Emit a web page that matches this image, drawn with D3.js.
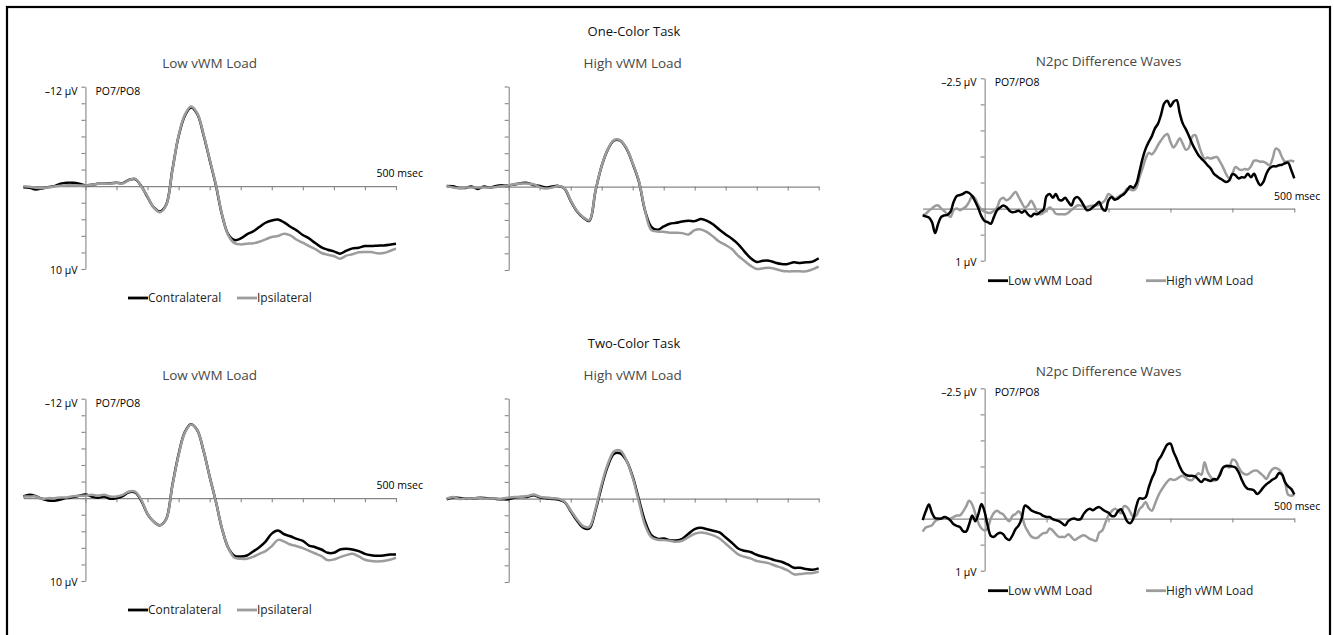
<!DOCTYPE html>
<html>
<head>
<meta charset="utf-8">
<script src="https://cdn.jsdelivr.net/npm/d3@7"></script>
<style>
  body { margin: 0; background: #fff; }
  text { font-family: "Open Sans", Lato, sans-serif; }
</style>
</head>
<body>
<svg id="fig" width="1334" height="635"></svg>
<script>
// sampling grids (ms)
const timesErp = d3.range(-100, 501, 10);
const timesDiff = d3.range(-100, 501, 5);

// ERP amplitudes in µV (negative plotted up), one value per 10 ms
const oneLowContra = [0.12,0.2,0.4,0.28,0.12,0,-0.28,-0.4,-0.4,-0.28,
  -0.08,-0.16,-0.28,-0.28,-0.36,-0.4,-0.36,-0.76,-0.84,0.0,
  1.33,2.57,3.05,2.25,-1.97,-6.02,-8.47,-9.48,-8.71,-6.22,
  -3.17,-0.12,3.49,5.82,6.51,6.31,5.82,5.46,4.94,4.42,
  4.14,4.02,4.38,4.9,5.34,5.9,6.31,6.87,7.39,7.67,
  7.87,8.15,7.79,7.51,7.43,7.23,7.23,7.19,7.15,7.07,6.95];
const oneLowIpsi = [0,0.08,0.2,0.24,0.16,0.04,-0.04,-0.12,-0.12,-0.08,
  -0.08,-0.16,-0.28,-0.28,-0.32,-0.4,-0.32,-0.7,-0.9,0.05,
  1.25,2.6,3.15,2.3,-1.9,-6.1,-8.6,-9.6,-8.8,-6.3,
  -3.25,-0.2,3.45,5.94,6.87,7.03,6.95,6.9,6.71,6.43,
  6.14,6.02,5.74,5.94,6.47,6.83,7.23,7.59,8.07,8.27,
  8.43,8.76,8.39,8.23,7.99,7.95,7.95,8.11,8.07,7.83,7.55];
const oneHighContra = [-0.08,-0.04,0.16,0.16,0,0.28,0,0.12,-0.08,-0.16,
  -0.16,-0.28,-0.4,-0.44,-0.2,-0.08,0.12,0,-0.08,0.24,
  1.71,2.95,3.7,4.1,0.52,-2.47,-4.46,-5.54,-5.5,-4.54,
  -2.75,-0.6,2.9,4.82,5.18,4.78,4.46,4.34,4.18,4.1,
  4.14,3.9,4.1,4.54,5.18,5.74,6.25,6.89,7.77,8.57,
  9.04,8.88,8.88,9.12,9.28,9.28,9.08,9.16,9.08,9.0,8.6];
const oneHighIpsi = [-0.08,0.12,0.2,0.12,0.12,0.12,0.12,0.12,0.04,-0.08,
  -0.16,-0.3,-0.36,-0.36,-0.28,0.08,0.24,0.12,-0.08,0.2,
  1.65,2.9,3.65,4.05,0.5,-2.5,-4.5,-5.6,-5.55,-4.6,
  -2.8,-0.65,2.9,5.22,5.38,5.42,5.54,5.54,5.58,5.74,
  5.22,5.14,5.46,6.02,6.61,7.01,7.49,8.29,8.88,9.48,
  9.88,9.8,9.72,9.88,10.08,10.16,10.16,10.16,10.16,9.92,9.6];
const twoLowContra = [-0.2,-0.4,-0.24,0.08,0.28,0.32,0.16,0,-0.12,-0.28,
  -0.44,-0.2,-0.04,-0.2,0.08,0,-0.24,-0.72,-0.68,0.32,
  1.92,2.84,3.28,2.52,-1.56,-5.28,-7.96,-8.92,-8.2,-5.76,
  -2.6,0.4,3.72,6.0,6.96,7.04,6.92,6.44,5.92,5.24,
  4.28,3.92,4.36,4.6,4.92,5.16,5.72,5.92,6.2,6.6,
  6.6,6.2,6.12,6.2,6.4,6.72,6.88,6.96,6.92,6.8,6.8];
const twoLowIpsi = [-0.2,-0.2,-0.2,0.08,0,0,-0.08,-0.08,-0.24,-0.28,
  -0.28,-0.4,-0.28,-0.4,-0.2,-0.2,-0.4,-0.8,-0.8,0.2,
  1.9,2.85,3.3,2.55,-1.5,-5.2,-7.9,-8.9,-8.2,-5.8,
  -2.6,0.4,3.7,6.0,7.2,7.32,7.32,7.08,6.72,6.4,
  5.8,5.04,5.24,5.6,5.8,6.04,6.36,6.68,7.0,7.48,
  7.4,7.12,6.88,6.72,7.04,7.44,7.6,7.64,7.6,7.44,7.2];
const twoHighContra = [0.08,-0.12,-0.08,0,0,-0.08,-0.08,-0.04,0.04,0.08,
  0.08,-0.12,-0.2,-0.2,-0.4,-0.16,-0.04,0.04,0.12,0.4,
  1.51,2.63,3.47,3.59,1.43,-1.47,-3.94,-5.38,-5.42,-4.54,
  -2.63,0.08,2.75,4.38,4.82,4.78,4.98,5.02,4.82,4.22,
  3.67,3.51,3.67,3.86,4.06,4.66,5.3,5.98,6.25,6.41,
  6.73,6.97,7.17,7.41,7.57,7.89,8.29,8.29,8.45,8.53,8.37];
const twoHighIpsi = [0,-0.2,0.04,0,0,-0.08,0,0,0,0,
  -0.12,-0.2,-0.2,-0.3,-0.5,-0.24,-0.12,-0.04,0,0.36,
  1.39,2.47,3.3,3.39,1.24,-1.75,-4.18,-5.66,-5.74,-4.58,
  -2.47,0.4,3.19,4.62,4.94,4.98,5.06,5.18,5.06,4.62,
  4.22,4.06,4.18,4.42,4.78,5.42,6.06,6.69,6.97,7.17,
  7.49,7.61,7.77,8.05,8.29,8.61,9.08,9.04,8.96,8.92,8.76];

// N2pc difference waves in µV, one value per 5 ms
const oneDiffLow = [0.13,0.15,0.17,0.26,0.47,0.29,0.16,0.13,0.12,0.06,
  -0.13,-0.24,-0.26,-0.28,-0.32,-0.30,-0.24,-0.13,0,0.15,
  0.24,0.26,0.29,0.16,0.03,-0.02,-0.06,-0.03,0.04,0.07,
  0.06,0.04,0.08,0.04,0.11,0.15,0.10,0.11,0.06,0.02,
  -0.24,-0.28,-0.21,-0.28,-0.17,-0.16,-0.21,-0.13,-0.06,-0.19,
  -0.22,-0.16,-0.06,0.03,0.02,-0.03,-0.08,-0.13,0,0.04,
  -0.16,-0.22,-0.17,-0.19,-0.24,-0.28,-0.35,-0.43,-0.40,-0.48,
  -0.71,-0.96,-1.15,-1.28,-1.39,-1.54,-1.63,-1.81,-2.02,-2.07,
  -1.96,-2.05,-2.08,-1.83,-1.63,-1.52,-1.39,-1.25,-1.13,-1.03,
  -0.96,-0.90,-0.83,-0.77,-0.67,-0.62,-0.58,-0.54,-0.51,-0.54,
  -0.66,-0.64,-0.58,-0.60,-0.60,-0.67,-0.60,-0.67,-0.54,-0.45,
  -0.51,-0.67,-0.77,-0.81,-0.81,-0.83,-0.84,-0.87,-0.88,-0.74,
  -0.58];
const oneDiffHigh = [0.13,0.10,0.04,0,-0.05,-0.06,0,0.05,0.11,0.16,
  0.03,0,0.03,0,-0.04,-0.13,-0.24,-0.19,-0.06,0.02,
  0.06,0.08,0.08,0.04,-0.02,-0.17,-0.21,-0.16,-0.19,-0.26,
  -0.32,-0.22,-0.11,-0.02,-0.06,-0.15,-0.06,0.08,0.11,0.08,
  0.03,-0.02,0.02,0.10,0.11,0.11,0.11,0.08,0.03,-0.02,
  -0.06,-0.06,-0.04,-0.03,-0.05,-0.06,-0.06,-0.08,-0.11,-0.17,
  -0.28,-0.24,-0.19,-0.22,-0.26,-0.30,-0.38,-0.37,-0.35,-0.40,
  -0.60,-0.77,-0.96,-1.07,-1.04,-1.11,-1.22,-1.31,-1.39,-1.43,
  -1.28,-1.17,-1.25,-1.35,-1.24,-1.13,-1.17,-1.38,-1.41,-1.25,
  -1.07,-0.96,-0.98,-0.96,-0.98,-0.99,-0.90,-0.79,-0.66,-0.58,
  -0.67,-0.80,-0.76,-0.74,-0.76,-0.75,-0.81,-0.92,-0.92,-0.90,
  -0.90,-0.87,-0.83,-0.96,-1.15,-1.12,-0.99,-0.90,-0.91,-0.92,
  -0.90];
const twoDiffLow = [0.03,-0.14,-0.27,-0.11,-0.01,0,0,-0.03,-0.01,0.04,
  0.11,0.14,0.16,0.24,0.25,0.11,-0.06,0.05,-0.09,-0.28,
  -0.13,0.14,0.33,0.35,0.30,0.27,0.30,0.38,0.41,0.32,
  0.20,0.13,-0.01,-0.25,-0.22,-0.16,-0.13,-0.11,-0.09,-0.05,
  -0.03,-0.03,0.01,0.03,0.05,0.09,0.13,0.05,0.01,0,
  0.02,0.01,-0.09,-0.16,-0.19,-0.16,-0.20,-0.22,-0.18,-0.14,
  -0.11,-0.05,-0.05,-0.14,-0.18,-0.08,0.05,0.09,0,-0.24,
  -0.39,-0.38,-0.41,-0.60,-0.77,-0.90,-1.11,-1.20,-1.32,-1.42,
  -1.44,-1.28,-1.15,-1.00,-0.89,-0.84,-0.82,-0.82,-0.81,-0.75,
  -0.70,-0.76,-0.74,-0.72,-0.76,-0.75,-0.84,-0.98,-1.01,-1.01,
  -1.00,-0.98,-0.89,-0.75,-0.63,-0.57,-0.56,-0.54,-0.47,-0.52,
  -0.60,-0.66,-0.70,-0.75,-0.78,-0.87,-0.85,-0.70,-0.62,-0.57,
  -0.46];
const twoDiffHigh = [0.25,0.17,0.15,0.13,0.05,0.02,0,0,0,0,
  -0.03,-0.06,-0.06,-0.13,-0.23,-0.34,-0.27,-0.09,0.09,0.19,
  0.23,0.18,0,-0.11,-0.15,-0.11,-0.08,0,0.05,-0.05,
  -0.09,-0.14,-0.05,0.14,0.25,0.34,0.37,0.37,0.32,0.28,
  0.27,0.19,0.23,0.30,0.35,0.35,0.35,0.30,0.35,0.41,
  0.38,0.34,0.32,0.35,0.39,0.41,0.43,0.27,0.23,0.08,
  -0.06,-0.14,-0.19,-0.16,-0.10,-0.24,-0.22,-0.13,-0.03,-0.06,
  -0.18,-0.24,-0.32,-0.20,-0.15,-0.28,-0.43,-0.54,-0.63,-0.71,
  -0.76,-0.74,-0.76,-0.80,-0.82,-0.78,-0.74,-0.74,-0.81,-0.87,
  -0.84,-1.08,-0.90,-0.80,-0.73,-0.75,-0.87,-0.98,-1.01,-0.98,
  -1.13,-1.11,-0.99,-0.89,-0.85,-0.85,-0.89,-0.92,-0.92,-0.87,
  -0.82,-0.76,-0.87,-0.95,-0.97,-0.94,-0.87,-0.70,-0.46,-0.44,
  -0.46];

// labels
const taskTitles = ["One-Color Task", "Two-Color Task"];
const loadTitles = ["Low vWM Load", "High vWM Load", "N2pc Difference Waves"];
const erpLegend = ["Contralateral", "Ipsilateral"];
const diffLegend = ["Low vWM Load", "High vWM Load"];

const BLACK = "#000";
const GREY = "#9c9c9c";
const AXIS = "#868686";

const svg = d3.select("#fig");

// outer frame
svg.append("rect")
  .attr("x", 7).attr("y", 7)
  .attr("width", 1323).attr("height", 660)
  .attr("fill", "none").attr("stroke", "#000").attr("stroke-width", 2.2);

function styleAxis(g) {
  g.selectAll("path, line").attr("stroke", AXIS).attr("stroke-width", 1.1);
  g.selectAll("text").remove();
}

function drawPanel(opt) {
  const g = svg.append("g");
  const x = d3.scaleLinear().domain([-100, 500]).range([opt.x0, opt.x1]);
  const y = d3.scaleLinear().domain(opt.yDomain).range([opt.y0, opt.y1]);

  g.append("g")
    .attr("transform", `translate(0,${y(0)})`)
    .call(d3.axisBottom(x).tickValues(opt.xTicks).tickSize(4).tickSizeOuter(0))
    .call(styleAxis);

  g.append("g")
    .attr("transform", `translate(${x(0)},0)`)
    .call(d3.axisLeft(y).tickValues(opt.yTicks).tickSize(4).tickSizeOuter(0))
    .call(styleAxis);

  const line = d3.line()
    .x((d, i) => x(opt.times[i]))
    .y(d => y(d))
    .curve(d3.curveCatmullRom);

  opt.series.forEach(s => {
    g.append("path")
      .attr("d", line(s.values))
      .attr("fill", "none")
      .attr("stroke", s.color)
      .attr("stroke-width", 2.5)
      .attr("stroke-linejoin", "round");
  });

  // title
  g.append("text")
    .attr("x", (opt.x0 + opt.x1) / 2)
    .attr("y", opt.titleY)
    .attr("text-anchor", "middle")
    .attr("font-size", 13.5)
    .attr("fill", "#474747")
    .text(opt.title);

  if (opt.labels) {
    const [topLab, botLab] = opt.labels;
    g.append("text").attr("x", x(0) - 8).attr("y", y(opt.yDomain[0]) + 8)
      .attr("text-anchor", "end").attr("font-size", 10.5).text(topLab);
    g.append("text").attr("x", x(0) - 8).attr("y", y(opt.yDomain[1]) + 5)
      .attr("text-anchor", "end").attr("font-size", 10.5).text(botLab);
    g.append("text").attr("x", x(0) + 10).attr("y", y(opt.yDomain[0]) + 8)
      .attr("font-size", 10.5).text("PO7/PO8");
    g.append("text").attr("x", opt.x1 + opt.msecDx).attr("y", y(0) - 9)
      .attr("text-anchor", "end").attr("font-size", 10.5).text("500 msec");
  }

  if (opt.legend) {
    opt.legend.forEach((lab, i) => {
      const lx = opt.legendX[i];
      g.append("line")
        .attr("x1", lx).attr("x2", lx + 20)
        .attr("y1", opt.legendY).attr("y2", opt.legendY)
        .attr("stroke", opt.legendColors[i]).attr("stroke-width", 2.8);
      g.append("text")
        .attr("x", lx + 20).attr("y", opt.legendY + 4)
        .attr("font-size", 12).attr("fill", "#222")
        .text(lab);
    });
  }
}

const erpXTicks = d3.range(0, 501, 50);
const erpYTicks = d3.range(-12, 11, 2);
const diffXTicks = d3.range(0, 501, 100);
const diffYTicks = d3.range(-2.5, 1.01, 0.5);

const rows = [
  { dy: 0, diffDy: 0, task: taskTitles[0],
    erp: [[oneLowContra, oneLowIpsi], [oneHighContra, oneHighIpsi]],
    diff: [oneDiffLow, oneDiffHigh] },
  { dy: 312, diffDy: 310, task: taskTitles[1],
    erp: [[twoLowContra, twoLowIpsi], [twoHighContra, twoHighIpsi]],
    diff: [twoDiffLow, twoDiffHigh] }
];

rows.forEach(r => {
  const dy = r.dy;
  const diffDy = r.diffDy;

  svg.append("text")
    .attr("x", 634).attr("y", 36 + dy)
    .attr("text-anchor", "middle")
    .attr("font-size", 13).attr("fill", "#111")
    .text(r.task);

  drawPanel({
    x0: 23.3, x1: 396, y0: 86.7 + dy, y1: 269 + dy,
    yDomain: [-12, 10], xTicks: erpXTicks, yTicks: erpYTicks,
    times: timesErp,
    series: [{ values: r.erp[0][0], color: BLACK }, { values: r.erp[0][1], color: GREY }],
    title: loadTitles[0], titleY: 68 + dy,
    labels: ["–12 µV", "10 µV"], msecDx: 27,
    legend: erpLegend, legendColors: [BLACK, GREY], legendX: [128, 237], legendY: 298 + dy
  });

  drawPanel({
    x0: 446.7, x1: 818.7, y0: 86.5 + dy, y1: 270 + dy,
    yDomain: [-12, 10], xTicks: erpXTicks, yTicks: erpYTicks,
    times: timesErp,
    series: [{ values: r.erp[1][0], color: BLACK }, { values: r.erp[1][1], color: GREY }],
    title: loadTitles[1], titleY: 68 + dy
  });

  drawPanel({
    x0: 922.7, x1: 1294.3, y0: 78.3 + diffDy, y1: 260.7 + diffDy,
    yDomain: [-2.5, 1], xTicks: diffXTicks, yTicks: diffYTicks,
    times: timesDiff,
    series: [{ values: r.diff[1], color: GREY }, { values: r.diff[0], color: BLACK }],
    title: loadTitles[2], titleY: 66 + diffDy,
    labels: ["–2.5 µV", "1 µV"], msecDx: 26,
    legend: diffLegend, legendColors: [BLACK, GREY], legendX: [988, 1146], legendY: 280.7 + diffDy
  });
});
</script>
</body>
</html>
